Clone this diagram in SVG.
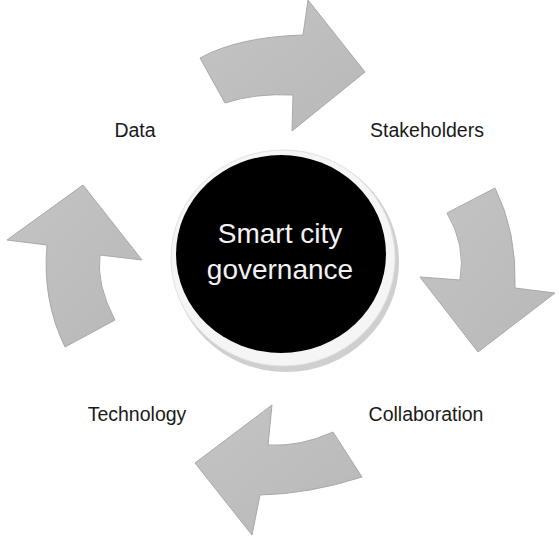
<svg xmlns="http://www.w3.org/2000/svg" width="559" height="538" viewBox="0 0 559 538">
  <defs>
    <linearGradient id="arrowFill" x1="0" y1="0" x2="1" y2="1">
      <stop offset="0" stop-color="#c4c4c4"/>
      <stop offset="1" stop-color="#b8b8b8"/>
    </linearGradient>
  </defs>
  <style>
    .arrow { fill: url(#arrowFill); stroke: #a9a9a9; stroke-width: 1; stroke-linejoin: miter; }
    .label { font-family: "Liberation Sans", Arial, sans-serif; font-size: 19.5px; fill: #1a1a1a; text-anchor: middle; }
    .center-text { font-family: "Liberation Sans", Arial, sans-serif; font-size: 28px; fill: #f2f2f2; text-anchor: middle; }
  </style>
  <rect width="559" height="538" fill="#ffffff"/>

  <g id="connectors">
    <path id="arrow-top" class="arrow" d="M200,58 Q238,37 303,35 L308,0 L365,72 L292,131 L293,95 Q255,93 225,103 Z"/>
    <path id="arrow-right" class="arrow" d="M447,213 L495,188 Q517,232 515,288 L555,293 L478,352 L420,277 L460,280 Q466,245 447,213 Z"/>
    <path id="arrow-bottom" class="arrow" d="M333,432 L362,477 Q309,494 260,495 L252,535 L195,463 L272,405 L268,445 Q300,447 333,432 Z"/>
    <path id="arrow-left" class="arrow" d="M65,347 L115,320 Q96,284 100,255 L142,260 L83,185 L7,240 L47,245 Q42,300 65,347 Z"/>
  </g>

  <g id="node-center">
    <ellipse cx="286" cy="262" rx="113" ry="110" fill="#cfcfcf"/>
    <ellipse cx="283" cy="258" rx="112" ry="108" fill="#f5f5f5" stroke="#e2e2e2" stroke-width="1"/>
    <ellipse cx="281" cy="254" rx="105" ry="99" fill="#000000"/>
    <text class="center-text" x="280" y="243">Smart city</text>
    <text class="center-text" x="280" y="279">governance</text>
  </g>

  <g id="node-data">
    <text class="label" x="135" y="137">Data</text>
  </g>
  <g id="node-stakeholders">
    <text class="label" x="427" y="137">Stakeholders</text>
  </g>
  <g id="node-technology">
    <text class="label" x="137" y="421">Technology</text>
  </g>
  <g id="node-collaboration">
    <text class="label" x="426" y="421">Collaboration</text>
  </g>
</svg>
